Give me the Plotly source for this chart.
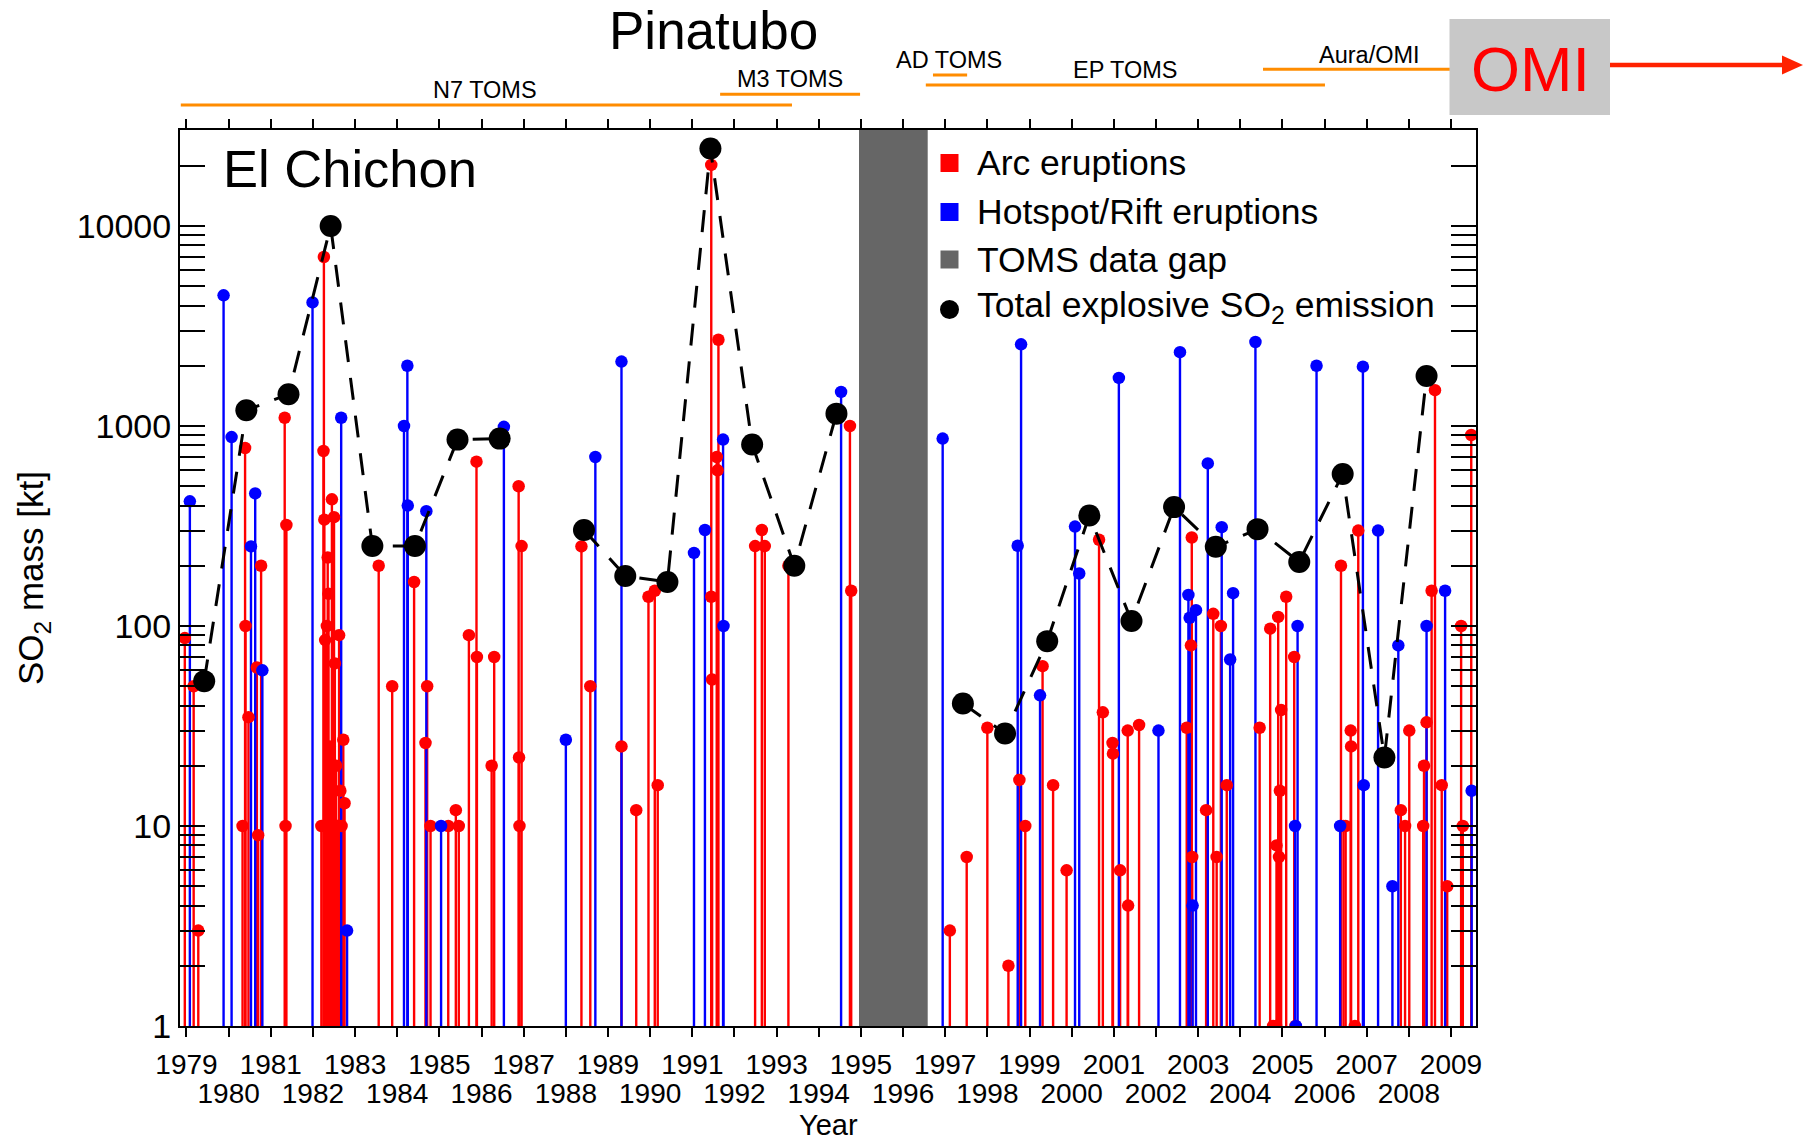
import plotly.graph_objects as go

# ------------------------------------------------------------------ data
# Arc eruptions (red): decimal year, SO2 mass [kt]
arc_year = [1978.96, 1979.17, 1979.28,
            1980.33, 1980.39, 1980.40, 1980.47, 1980.67, 1980.70, 1980.77,
            1981.33, 1981.35, 1981.37,
            1982.20, 1982.25, 1982.26, 1982.27, 1982.29, 1982.31, 1982.33, 1982.35, 1982.36,
            1982.37, 1982.40, 1982.42, 1982.45, 1982.47, 1982.50, 1982.52, 1982.55, 1982.58,
            1982.60, 1982.62, 1982.65, 1982.68, 1982.72, 1982.75,
            1983.56, 1983.88,
            1984.40, 1984.67, 1984.71, 1984.79,
            1985.21, 1985.39, 1985.46, 1985.70, 1985.88, 1985.89,
            1986.24, 1986.30, 1986.88, 1986.89, 1986.90, 1986.95,
            1988.37, 1988.58,
            1989.32, 1989.67, 1989.96,
            1990.11, 1990.18,
            1991.45, 1991.45, 1991.47, 1991.58, 1991.60, 1991.62,
            1992.49, 1992.65, 1992.72,
            1993.28,
            1994.74, 1994.77,
            1997.11, 1997.51, 1998.00, 1998.50, 1998.76, 1998.90,
            1999.31, 1999.56, 1999.88,
            2000.65, 2000.74, 2000.97, 2000.98,
            2001.15, 2001.33, 2001.34, 2001.60,
            2002.73, 2002.83, 2002.85, 2002.86,
            2003.19, 2003.36, 2003.44, 2003.54, 2003.68,
            2004.46, 2004.71, 2004.78, 2004.85, 2004.86, 2004.90, 2004.92, 2004.94, 2004.97,
            2005.09, 2005.28, 2005.31,
            2006.39, 2006.45, 2006.50, 2006.62, 2006.63, 2006.72, 2006.80,
            2007.81, 2007.91, 2008.01,
            2008.34, 2008.36, 2008.42, 2008.54, 2008.62, 2008.78, 2008.91,
            2009.24, 2009.28, 2009.48]
arc_so2 = [87, 50, 3,
           10, 776, 100, 35, 62, 9, 200,
           1100, 10, 320,
           10, 750, 7000, 340, 85, 10, 100, 220, 10,
           145, 25, 10, 430, 10, 350, 65, 20, 10,
           10, 90, 15, 10, 27, 13,
           200, 50,
           166, 26, 50, 10,
           10, 12, 10, 90, 663, 70,
           20, 70, 500, 22, 10, 251,
           250, 50,
           25, 12, 140,
           150, 16,
           20200, 140, 54, 700, 600, 2700,
           251, 302, 251,
           200,
           1000, 150,
           3, 7, 31, 2, 17, 10,
           63, 16, 6,
           270, 37, 26, 23,
           6, 30, 4, 32,
           31, 80, 277, 7,
           12, 115, 7, 100, 16,
           31, 97, 1, 1, 8, 111, 7, 15, 38,
           140, 70, 1,
           200, 10, 10, 30, 25, 1, 300,
           12, 10, 30,
           10, 20, 33, 150, 1510, 16, 5,
           100, 10, 902]

# Hotspot / rift eruptions (blue)
hot_year = [1979.08, 1979.88, 1980.07, 1980.53, 1980.63, 1980.80, 1981.99,
            1982.67, 1982.81,
            1984.16, 1984.24, 1984.25, 1984.69, 1985.04,
            1986.53, 1988.00, 1988.70, 1989.32,
            1991.04, 1991.30, 1991.73, 1991.74,
            1994.53,
            1996.94, 1998.72, 1998.80, 1999.25,
            2000.08, 2000.18, 2001.12, 2002.06,
            2002.57, 2002.77, 2002.80, 2002.87, 2002.95,
            2003.23, 2003.56, 2003.76, 2003.83,
            2004.36, 2005.30, 2005.32, 2005.36, 2005.81,
            2006.37, 2006.91, 2006.93, 2007.27, 2007.61, 2007.75,
            2008.42, 2008.86, 2009.49]
hot_so2 = [420, 4500, 880, 250, 460, 60, 4150,
           1100, 3,
           1000, 2000, 400, 375, 10,
           990, 27, 700, 2100,
           232, 302, 855, 100,
           1480,
           865, 252, 2560, 45,
           314, 183, 1740, 30,
           2340, 143, 110, 4, 120,
           650, 312, 68, 146,
           2630, 10, 1, 100, 2000,
           10, 1980, 16, 300, 5, 80,
           100, 150, 15]

# Total explosive SO2 emission per year (None = no value / data gap)
total_year = [1979.42, 1980.42, 1981.42, 1982.42, 1983.41, 1984.42, 1985.43, 1986.43,
              1987.42, 1988.43, 1989.41, 1990.41, 1991.43, 1992.42, 1993.42, 1994.42,
              1995.42, 1996.42, 1997.42, 1998.42, 1999.42, 2000.42, 2001.42, 2002.43,
              2003.42, 2004.41, 2005.40, 2006.43, 2007.42, 2008.42]
total_so2 = [53, 1200, 1440, 10000, 251, 251, 855, 865,
             None, 302, 178, 166, 24400, 808, 200, 1153,
             None, None, 41, 29, 84, 357, 106, 393,
             249, 305, 209, 576, 22, 1780]

# TOMS data gap
gap_start, gap_end = 1994.955, 1996.585

# Satellite instrument records
instr_name = ["N7 TOMS", "M3 TOMS", "AD TOMS", "EP TOMS", "Aura/OMI"]
instr_start = [1978.865, 1991.66, 1996.71, 1996.54, 2004.54]
instr_end = [1993.365, 1994.98, 1997.52, 2006.01, 2008.99]

# Axis ticks
year_ticks = list(range(1979, 2010))
odd_years = [y for y in year_ticks if y % 2 == 1]
even_years = [y for y in year_ticks if y % 2 == 0]
y_tickvals = [1, 10, 100, 1000, 10000]
y_ticktext = ["1", "10", "100", "1000", "10000"]
y_minor = [m * 10 ** d for d in range(0, 5) for m in range(2, 10) if m * 10 ** d < 30000]

legend_labels = ["Arc eruptions", "Hotspot/Rift eruptions", "TOMS data gap",
                 "Total explosive SO<sub>2</sub> emission"]

# ------------------------------------------------------------------ layout helpers
W, H = 1807, 1142
L, R, T, B = 180, 1476, 130, 1026
FONT = "Liberation Sans, Arial, Helvetica, sans-serif"


def px(x):
    return (x - L) / (R - L)


def py(y):
    return 1 - (y - T) / (B - T)


def stems(xs, vs, floor=0.3):
    X, Y = [], []
    for x, v in zip(xs, vs):
        X += [x, x, None]
        Y += [floor, v, None]
    return X, Y


RED, BLUE, GAP, ORANGE = "#ff0000", "#0000ff", "#666666", "#ff8c00"

fig = go.Figure()

rx, ry = stems(arc_year, arc_so2)
bx, by = stems(hot_year, hot_so2)
fig.add_trace(go.Scatter(x=rx, y=ry, mode="lines", line=dict(color=RED, width=2.4),
                         hoverinfo="skip", showlegend=False))
fig.add_trace(go.Scatter(x=bx, y=by, mode="lines", line=dict(color=BLUE, width=2.4),
                         hoverinfo="skip", showlegend=False))
fig.add_trace(go.Scatter(x=arc_year, y=arc_so2, mode="markers",
                         marker=dict(color=RED, size=12.5, line=dict(width=0)),
                         name="Arc eruptions", showlegend=False))
fig.add_trace(go.Scatter(x=hot_year, y=hot_so2, mode="markers",
                         marker=dict(color=BLUE, size=12.5, line=dict(width=0)),
                         name="Hotspot/Rift eruptions", showlegend=False))
fig.add_trace(go.Scatter(x=total_year, y=total_so2, mode="lines+markers",
                         line=dict(color="black", width=3, dash="22px,16px"),
                         marker=dict(color="black", size=22),
                         connectgaps=False, name="Total explosive SO2 emission",
                         showlegend=False))
# invisible traces that register the two label-only x axes (odd / even years)
for ax_id in ("x2", "x3"):
    fig.add_trace(go.Scatter(x=[2000], y=[10], xaxis=ax_id, mode="markers",
                             marker=dict(opacity=0), hoverinfo="skip", showlegend=False))

shapes = []
# data gap band
shapes.append(dict(type="rect", xref="x", yref="paper", x0=gap_start, x1=gap_end,
                   y0=0, y1=1, fillcolor=GAP, line=dict(width=0), layer="below"))
# instrument lines (above the plot)
instr_ypix = [105, 94.3, 75, 85, 69.3]
for s, e, yp in zip(instr_start, instr_end, instr_ypix):
    shapes.append(dict(type="line", xref="x", yref="paper", x0=s, x1=e,
                       y0=py(yp), y1=py(yp), line=dict(color=ORANGE, width=3)))
# OMI box
shapes.append(dict(type="rect", xref="paper", yref="paper", x0=px(1449.5), x1=px(1610),
                   y0=py(115), y1=py(19), fillcolor="#c8c8c8", line=dict(width=0)))
# red arrow (shaft + head)
shapes.append(dict(type="line", xref="paper", yref="paper", x0=px(1610), x1=px(1786),
                   y0=py(65), y1=py(65), line=dict(color="#ff2200", width=4.5)))
shapes.append(dict(type="path", xref="paper", yref="paper",
                   path="M {:.5f},{:.5f} L {:.5f},{:.5f} L {:.5f},{:.5f} Z".format(
                       px(1782), py(55.5), px(1803), py(65), px(1782), py(74.5)),
                   fillcolor="#ff2200", line=dict(width=0)))
# legend symbols
leg_y = [163, 212, 259.5, 307]
for col, yc in zip([RED, BLUE, GAP], leg_y[:3]):
    shapes.append(dict(type="rect", xref="paper", yref="paper", x0=px(940.5), x1=px(958.5),
                       y0=py(yc + 9), y1=py(yc - 9), fillcolor=col, line=dict(width=0)))
circ_c = leg_y[3] + 2.5
shapes.append(dict(type="circle", xref="paper", yref="paper", x0=px(940), x1=px(959),
                   y0=py(circ_c + 9.5), y1=py(circ_c - 9.5),
                   fillcolor="black", line=dict(width=0)))

annotations = []
for lab, yc in zip(legend_labels, leg_y):
    annotations.append(dict(text=lab, xref="paper", yref="paper", x=px(975), y=py(yc),
                            xanchor="left", yanchor="middle", showarrow=False,
                            font=dict(family=FONT, size=35.5, color="black")))
# instrument labels
instr_lab_pos = [(485, 90), (790, 79.5), (948.6, 60), (1125.7, 70.3), (1369.4, 55.3)]
for name, (cx, cy) in zip(instr_name, instr_lab_pos):
    annotations.append(dict(text=name, xref="paper", yref="paper", x=px(cx), y=py(cy),
                            xanchor="center", yanchor="middle", showarrow=False,
                            font=dict(family=FONT, size=23.5, color="black")))
annotations += [
    dict(text="Pinatubo", xref="paper", yref="paper", x=px(713), y=py(30),
         xanchor="center", yanchor="middle", showarrow=False,
         font=dict(family=FONT, size=53, color="black")),
    dict(text="El Chichon", xref="paper", yref="paper", x=px(221), y=py(168.5),
         xanchor="left", yanchor="middle", showarrow=False,
         font=dict(family=FONT, size=52.5, color="black")),
    dict(text="OMI", xref="paper", yref="paper", x=px(1530.5), y=py(69.2),
         xanchor="center", yanchor="middle", showarrow=False,
         font=dict(family=FONT, size=63, color="#ff0000")),
    dict(text="Year", xref="paper", yref="paper", x=px(828), y=py(1125),
         xanchor="center", yanchor="middle", showarrow=False,
         font=dict(family=FONT, size=29, color="black")),
]

xr = [1978.846, 2009.593]
tick_font = dict(family=FONT, size=28, color="black")
label_axis = dict(range=xr, overlaying="x", anchor="y", side="bottom", tickmode="array",
                  ticks="", showline=False, showgrid=False, zeroline=False, tickangle=0,
                  tickfont=tick_font)
fig.update_layout(
    width=W, height=H,
    margin=dict(l=L, r=W - R, t=T, b=H - B, pad=0),
    paper_bgcolor="white", plot_bgcolor="white",
    showlegend=False,
    shapes=shapes, annotations=annotations,
    xaxis=dict(range=xr, tickmode="array", tickvals=year_ticks, showticklabels=False,
               ticks="outside", ticklen=9, tickwidth=1.5, tickcolor="black",
               showline=True, linewidth=2, linecolor="black", mirror="allticks",
               showgrid=False, zeroline=False),
    xaxis2=dict(label_axis, tickvals=odd_years, ticktext=[str(y) for y in odd_years],
                ticklabelstandoff=19),
    xaxis3=dict(label_axis, tickvals=even_years, ticktext=[str(y) for y in even_years],
                ticklabelstandoff=48),
    yaxis=dict(type="log", range=[0, 4.48], tickmode="array", tickvals=y_tickvals,
               ticktext=y_ticktext, ticks="inside", ticklen=25, tickwidth=1.5,
               tickcolor="black", showline=True, linewidth=2, linecolor="black",
               mirror="allticks", showgrid=False, zeroline=False,
               tickfont=dict(family=FONT, size=34, color="black"),
               ticklabelstandoff=0,
               title=dict(text="SO<sub>2</sub> mass [kt]", standoff=22,
                          font=dict(family=FONT, size=35, color="black")),
               minor=dict(tickmode="array", tickvals=y_minor, ticks="inside",
                          ticklen=12, tickwidth=1.5, tickcolor="black", showgrid=False)),
)

fig.write_html("out.html")
